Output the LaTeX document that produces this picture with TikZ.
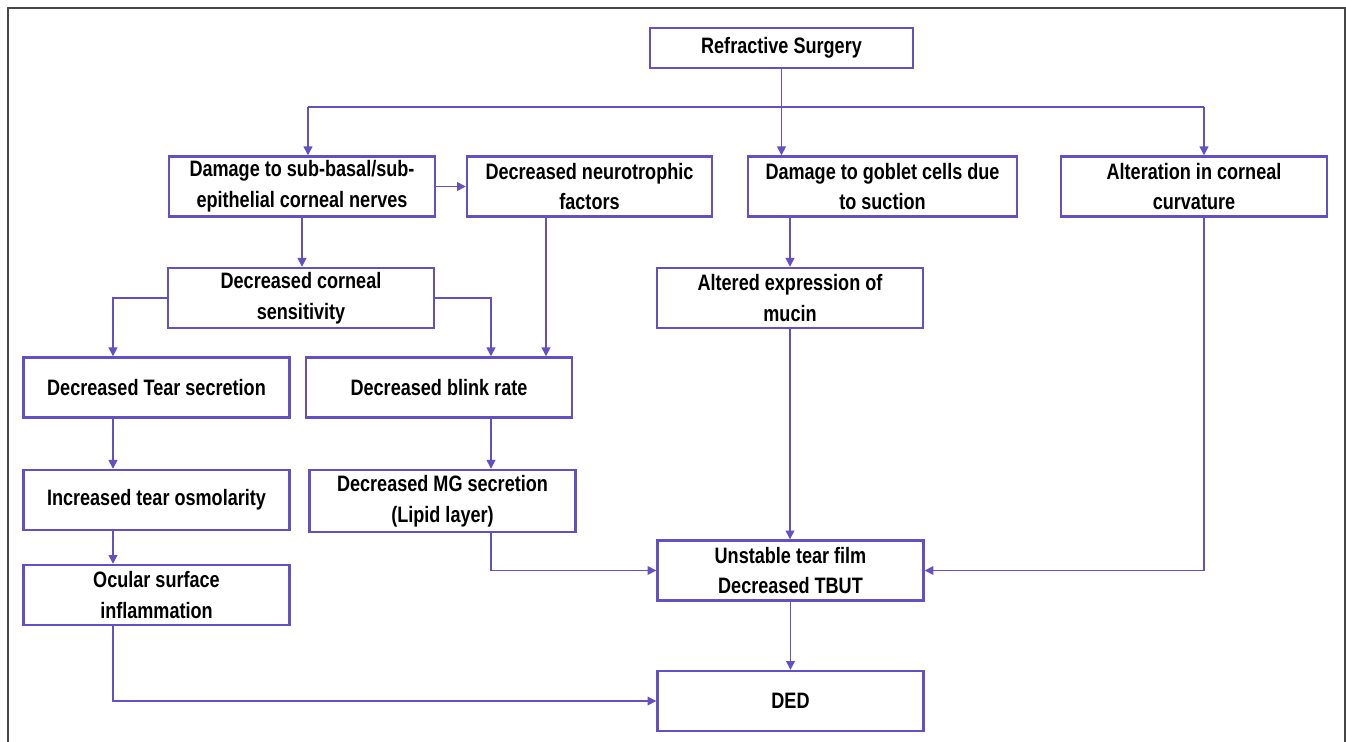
\documentclass[tikz,border=0pt]{standalone}
\usepackage{fontspec}
\setmainfont{Liberation Sans}[FakeStretch=0.81]
\usetikzlibrary{arrows.meta}

\definecolor{boxline}{RGB}{100,80,196}
\definecolor{framegray}{RGB}{70,70,70}

\tikzset{
  box/.style={draw=boxline, line width=1.4pt, fill=white,
    minimum width=5.32cm, minimum height=1.2cm, inner sep=2pt,
    align=center, font=\fontsize{12.7}{17.6}\selectfont\bfseries},
  wire/.style={draw=boxline, line width=0.85pt},
  link/.style={wire, -{Triangle[length=5pt,width=5pt]}},
}

\begin{document}
\begin{tikzpicture}[x=0.02cm, y=-0.02cm]

    % --- Page and frame ---
    \useasboundingbox (0,0) rectangle (1346,741);
    \draw[framegray, line width=1pt] (8,745) -- (8,8) -- (1345,8) -- (1345,745);

    % --- Boxes ---
    % top
    \node[box, minimum width=5.26cm, minimum height=0.8cm] (surg) at (781.5,48) {Refractive Surgery};

    % first row
    \node[box] (nerve) at (302,186.5) {Damage to sub-basal/sub-\\epithelial corneal nerves};
    \node[box, minimum width=4.9cm] (neuro) at (589.5,186.5) {Decreased neurotrophic\\factors};
    \node[box, minimum width=5.38cm] (goblet) at (882.5,186.5) {Damage to goblet cells due\\to suction};
    \node[box] (curv) at (1194,186.5) {Alteration in corneal\\curvature};

    % second row
    \node[box] (sens) at (301,298) {Decreased corneal\\sensitivity};
    \node[box] (mucin) at (790,298) {Altered expression of\\mucin};

    % left column
    \node[box] (tear) at (156.5,387.5) {Decreased Tear secretion};
    \node[box] (osmo) at (156.5,500) {Increased tear osmolarity};
    \node[box] (infl) at (156.5,595) {Ocular surface\\inflammation};

    % middle column
    \node[box] (blink) at (439,387.5) {Decreased blink rate};
    \node[box, minimum height=1.24cm] (mg) at (442.5,501) {Decreased MG secretion\\(Lipid layer)};

    % outcome
    \node[box] (tbut) at (790.5,570.5) {Unstable tear film\\Decreased TBUT};
    \node[box] (ded) at (790.5,701) {DED};

    % --- Helper coordinates ---
    \coordinate (busL) at (308,107);
    \coordinate (busR) at (1204,107);
    \coordinate (colA) at (113,0);  % left vertical line
    \coordinate (colB) at (491,0);  % blink / MG line
    \coordinate (colC) at (546,0);  % neurotrophic line

    % --- Connectors ---
    \draw[link] (surg.south) -- (surg.south |- goblet.north);
    \draw[wire] (busL) -- (busR);
    \draw[link] (busL) -- (busL |- nerve.north);
    \draw[link] (busR) -- (busR |- curv.north);

    \draw[link] (nerve.east) -- (neuro.west);
    \draw[link] (nerve.south) -- (nerve.south |- sens.north);
    \draw[link] (sens.west) -| (colA |- tear.north);
    \draw[link] (sens.east) -| (colB |- blink.north);
    \draw[link] (colC |- neuro.south) -- (colC |- blink.north);

    \draw[link] (mucin.north |- goblet.south) -- (mucin.north);
    \draw[link] (mucin.south) -- (mucin.south |- tbut.north);
    \draw[link] (busR |- curv.south) |- (tbut.east);

    \draw[link] (colA |- tear.south) -- (colA |- osmo.north);
    \draw[link] (colA |- osmo.south) -- (colA |- infl.north);
    \draw[link] (colB |- blink.south) -- (colB |- mg.north);

    \draw[link] (colB |- mg.south) |- (tbut.west);
    \draw[link] (colA |- infl.south) |- (ded.west);
    \draw[link] (tbut.south) -- (ded.north);

\end{tikzpicture}
\end{document}
